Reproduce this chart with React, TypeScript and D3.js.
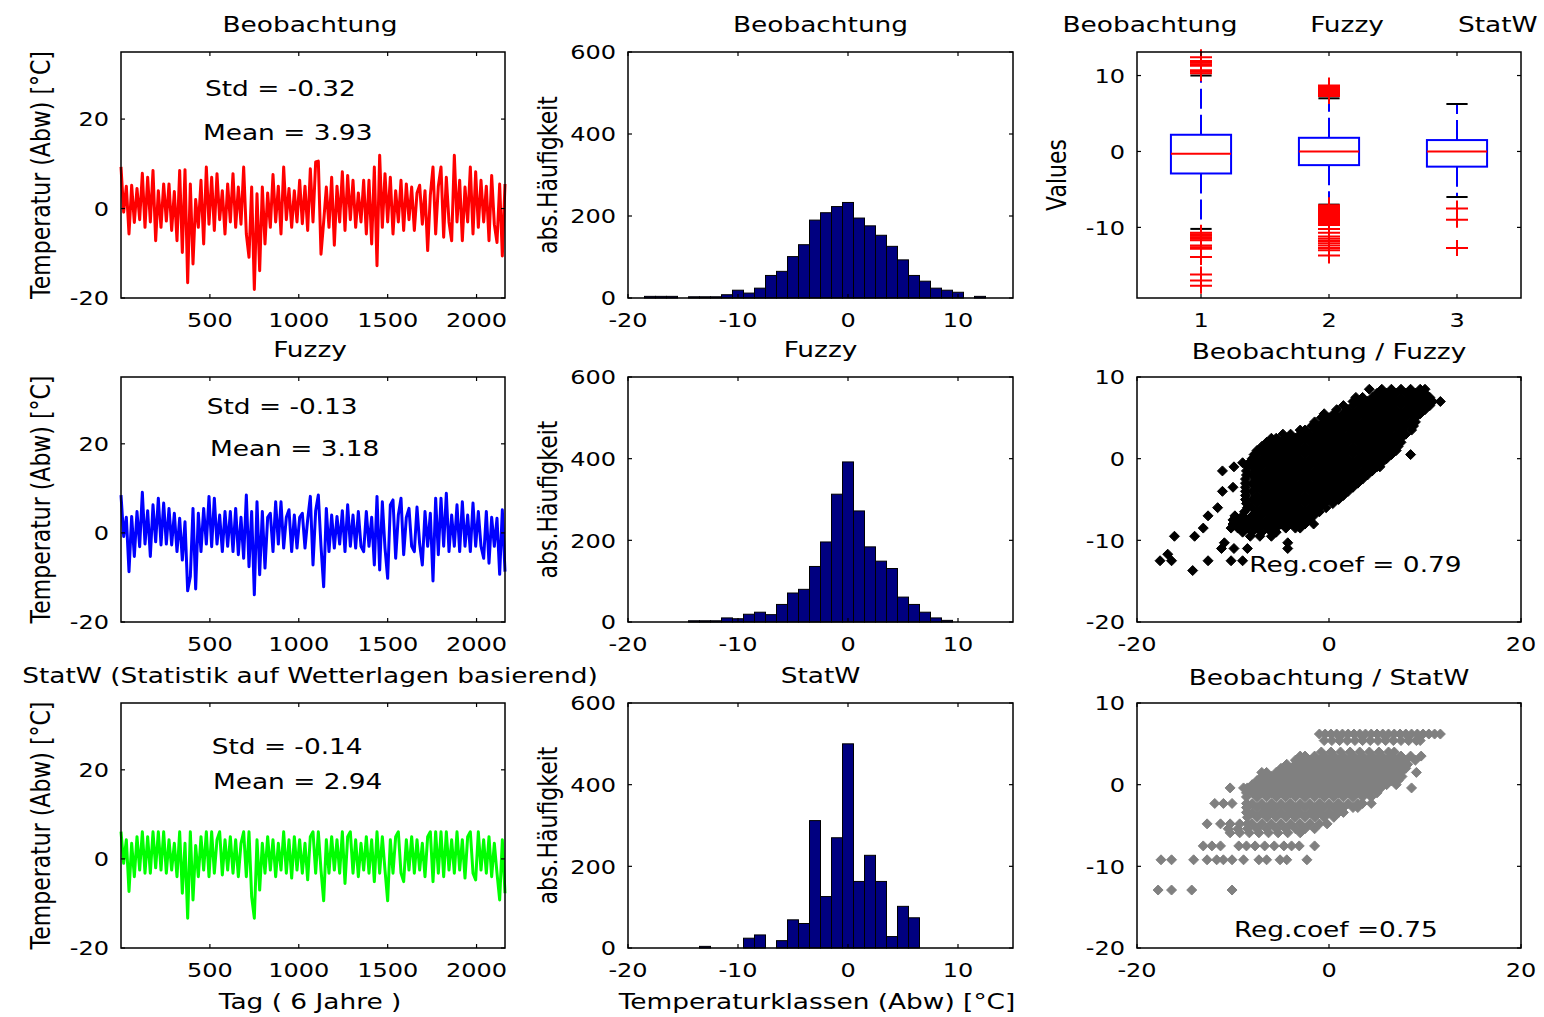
import React from "react";
import * as d3 from "d3";

const FONT = "'DejaVu Sans', Verdana, Arial, sans-serif";
const STRETCH = 1.2;

// ---------------- Data ----------------
// time series: one reading every SAMPLE_DAYS days over ~6 years
const SAMPLE_DAYS = 15;
const beobSeries = [
  9.3, -0.8, 5.0, -5.7, 5.2, -3.1, 4.5, -2.5, 7.9, -4.2,
  7.0, -3.0, 8.5, -7.2, 4.0, -4.2, 5.5, -2.8, 5.5, -4.9,
  3.8, -7.2, 8.5, -9.8, 8.7, -16.6, 5.5, -12.4, 2.0, -4.2,
  6.3, -7.9, 9.3, -3.5, 7.0, -4.9, 7.8, -2.5, 4.0, -5.7,
  5.5, -3.0, 7.8, -4.2, 4.8, -3.5, 9.3, -5.7, -10.9, 4.8,
  -18.1, 3.3, -13.9, 4.8, -7.9, 3.5, -4.2, 7.6, -3.0, 5.0,
  -5.7, 9.3, -2.5, 4.5, -4.2, 4.0, -3.0, 6.3, -3.4, 5.0,
  -4.9, 8.9, -3.0, 10.4, 10.6, -10.2, -3.0, 4.8, -4.2, 7.0,
  -8.2, 5.0, -3.0, 8.2, -4.9, 7.4, -2.5, 6.3, -4.2, 3.5,
  -3.0, 6.3, -5.7, 6.3, -7.9, 9.3, -12.8, 11.9, -4.2, 7.8,
  -3.0, 7.0, -5.7, 4.0, -3.0, 6.3, -4.9, 5.5, -2.5, 4.8,
  -4.9, 3.5, 5.2, -3.5, 4.0, -9.4, 3.0, 9.3, -5.7, 5.0,
  9.3, -6.4, 7.0, -3.0, -7.2, 11.9, -3.0, 6.3, -7.2, 4.8,
  -3.0, 9.3, -5.7, 8.2, -4.2, 6.3, -3.0, 5.0, -7.2, 7.4,
  -3.5, -7.6, 5.5, -10.6, 5.5,
];
const fuzzySeries = [
  8.5, -0.8, 3.5, -8.7, 3.7, -5.3, 4.8, -3.1, 9.1, -2.5,
  5.0, -5.3, 6.3, -2.0, 7.8, -2.7, 6.7, -2.5, 5.5, -2.7,
  4.4, -4.2, 3.3, -6.1, 2.5, -13.0, -9.8, 5.5, -12.6, 4.4,
  -4.2, 5.5, -2.5, 8.2, -3.1, 7.8, -2.5, 4.0, -4.2, 4.8,
  -3.0, 4.8, -4.2, 5.5, -4.9, 3.5, -5.7, 8.5, -7.6, 4.8,
  -13.9, 7.0, -9.4, 4.8, -7.9, 3.5, 4.4, -4.2, 7.0, -2.5,
  7.0, -3.4, 3.5, 5.2, -4.2, 4.0, -3.4, 3.5, 4.4, -3.4,
  3.0, 8.2, -7.2, 5.0, 8.5, -3.0, -12.1, 5.5, -4.2, 4.0,
  -3.4, 3.7, -2.5, 5.0, -4.2, 6.3, -3.0, 4.0, -3.4, 4.8,
  -3.0, -4.2, 4.8, -3.0, 3.5, -7.2, 8.2, -8.3, 7.0, -3.4,
  -10.2, 6.3, 7.4, -5.7, 4.0, 7.8, -4.9, 3.5, 5.5, -3.0,
  -4.2, 5.8, -2.5, -7.2, 4.8, -3.0, 4.4, -10.8, 7.8, -4.9,
  7.8, -3.0, 8.9, -4.2, 4.0, -3.0, 6.3, -4.2, 7.0, -3.0,
  4.0, -4.2, 6.7, -3.0, 4.8, -3.0, -5.7, 4.8, -6.8, 3.5,
  -3.0, 3.3, -9.3, 5.2, -8.7,
];
const statwSeries = [
  6.1, -1.0, 4.3, -7.3, 3.5, -4.0, 5.0, -2.5, 6.1, -3.2,
  5.0, -3.2, 6.1, -2.0, 6.1, -2.5, 6.1, -3.2, 4.3, -2.5,
  3.5, -4.0, 6.1, -7.7, 3.5, -13.3, 6.1, -9.2, 3.0, -4.0,
  5.0, -2.5, 6.1, -4.0, 6.1, -3.2, 4.3, 6.1, -3.6, 4.3,
  -2.5, 5.0, -3.2, 4.3, -4.0, 3.5, 6.1, -4.0, 6.1, -8.5,
  -13.3, 4.3, -7.0, 3.5, -3.2, 5.0, -2.5, 4.3, -4.0, 3.5,
  -2.5, 6.1, -3.2, 4.3, -4.3, 5.0, -2.5, 4.3, -3.2, 3.5,
  -4.7, 5.0, 6.1, -3.2, 6.1, -2.5, -9.4, 4.3, -3.2, 5.0,
  -2.5, 4.3, -3.2, 6.1, -5.5, 5.0, 6.1, -3.2, 4.3, -4.0,
  3.5, -2.5, 5.0, -3.2, 4.3, -5.1, 6.1, -3.2, 5.0, -2.5,
  -9.4, 4.3, -3.2, 5.0, 6.1, -3.2, -5.1, 4.3, -2.5, 5.0,
  -3.2, 4.3, -2.5, 3.5, -4.0, 5.0, 6.1, -5.1, 6.1, -3.2,
  6.1, -4.0, 6.1, -2.5, 4.3, -3.2, 6.1, -2.5, 4.3, -4.3,
  5.0, 6.1, -3.2, -4.7, 6.1, -2.5, 4.3, -3.2, 5.0, -4.0,
  3.5, -3.2, -9.2, 4.3, -7.7,
];
const tsColors = ["#ff0000", "#0000ff", "#00ff00"];
const tsTitles = ["Beobachtung", "Fuzzy", "StatW (Statistik auf Wetterlagen basierend)"];
const stdLabels = ["-0.32", "-0.13", "-0.14"];
const meanLabels = ["3.93", "3.18", "2.94"];

// histograms: bin centres (width 1) and counts
const histCenters = [-18, -17, -16, -15, -14, -13, -12, -11, -10, -9, -8, -7, -6, -5, -4, -3, -2, -1, 0, 1, 2, 3, 4, 5, 6, 7, 8, 9, 10, 11, 12];
const beobCounts = [4, 4, 4, 0, 3, 3, 3, 8, 19, 12, 24, 55, 65, 101, 130, 190, 208, 223, 233, 195, 176, 153, 126, 93, 55, 41, 24, 19, 14, 0, 4];
const fuzzyCounts = [0, 0, 0, 0, 3, 3, 3, 10, 8, 19, 24, 18, 43, 71, 80, 136, 196, 313, 392, 272, 184, 149, 131, 61, 43, 24, 10, 4, 0, 0, 0];
const statwCounts = [0, 0, 0, 0, 0, 4, 0, 0, 0, 24, 32, 0, 18, 69, 60, 312, 126, 270, 500, 163, 227, 163, 28, 102, 74, 0, 0, 0, 0, 0, 0];
const histTitles = ["Beobachtung", "Fuzzy", "StatW"];

// boxplot statistics
const boxLabels = ["Beobachtung", "Fuzzy", "StatW"];
const boxQ1 = [-2.9, -1.8, -2.0];
const boxMedian = [-0.3, 0.0, 0.0];
const boxQ3 = [2.2, 1.8, 1.5];
const boxWhiskerLo = [-10.2, -7.0, -6.0];
const boxWhiskerHi = [10.0, 7.0, 6.25];
const beobOutliers = [10.3, 10.5, 10.7, 11.3, 11.5, 11.7, 11.9, 12.4, -10.7, -10.9, -11.1, -11.3, -11.5, -11.7, -12.4, -12.6, -12.8, -13.9, -16.2, -17.0, -17.7];
const fuzzyOutliers = [7.3, 7.5, 7.7, 7.9, 8.1, 8.3, 8.5, 8.7, -7.1, -7.3, -7.5, -7.7, -7.9, -8.1, -8.3, -8.5, -8.7, -8.9, -9.1, -9.3, -9.5, -9.7, -10.2, -10.7, -11.2, -11.5, -11.8, -12.1, -12.4, -12.7, -13.0, -13.7];
const statwOutliers = [-7.5, -9.0, -12.7];

// scatter: rows of [y, x values]
const fuzzyScatterRows: [number, number[]][] = [
  [8.5, [4.2, 5.5, 6.5, 7.5, 8.5, 9.5, 10.0]],
  [8.0, [5.0, 6.0, 7.0, 8.0, 9.0, 10.0]],
  [7.5, [2.8, 3.5, 4.5, 5.5, 6.5, 7.5, 8.5, 9.5, 10.5]],
  [7.0, [2.5, 3.0, 4.0, 5.0, 6.0, 7.0, 8.0, 9.0, 10.0, 10.8, 11.6]],
  [6.5, [1.5, 2.5, 3.5, 4.5, 5.5, 6.5, 7.5, 8.5, 9.5, 10.5]],
  [6.0, [0.8, 2.0, 3.0, 4.0, 5.0, 6.0, 7.0, 8.0, 9.0, 10.0]],
  [5.5, [-0.5, 0.5, 1.5, 2.5, 3.5, 4.5, 5.5, 6.5, 7.5, 8.5, 9.5]],
  [5.0, [-0.8, 0.0, 1.0, 2.0, 3.0, 4.0, 5.0, 6.0, 7.0, 8.0, 9.0]],
  [4.5, [-1.5, -0.5, 0.5, 1.5, 2.5, 3.5, 4.5, 5.5, 6.5, 7.5, 8.5, 9.0]],
  [4.0, [-1.8, -1.0, 0.0, 1.0, 2.0, 3.0, 4.0, 5.0, 6.0, 7.0, 8.0, 8.8]],
  [3.5, [-3.0, -2.5, -1.5, -0.5, 0.5, 1.5, 2.5, 3.5, 4.5, 5.5, 6.5, 7.5, 8.6]],
  [3.0, [-4.8, -4.0, -3.0, -2.0, -1.0, 0.0, 1.0, 2.0, 3.0, 4.0, 5.0, 6.0, 7.0, 8.0]],
  [2.5, [-6.0, -5.5, -4.5, -3.5, -2.5, -1.5, -0.5, 0.5, 1.5, 2.5, 3.5, 4.5, 5.5, 6.5, 7.5]],
  [2.0, [-6.5, -6.0, -5.0, -4.0, -3.0, -2.0, -1.0, 0.0, 1.0, 2.0, 3.0, 4.0, 5.0, 6.0, 7.0, 7.5]],
  [1.5, [-7.0, -6.5, -5.5, -4.5, -3.5, -2.5, -1.5, -0.5, 0.5, 1.5, 2.5, 3.5, 4.5, 5.5, 6.5, 7.2]],
  [1.0, [-7.5, -7.0, -6.0, -5.0, -4.0, -3.0, -2.0, -1.0, 0.0, 1.0, 2.0, 3.0, 4.0, 5.0, 6.0, 7.0]],
  [0.5, [-7.8, -7.5, -6.5, -5.5, -4.5, -3.5, -2.5, -1.5, -0.5, 0.5, 1.5, 2.5, 3.5, 4.5, 5.5, 6.5, 8.5]],
  [0.0, [-8.0, -7.0, -6.0, -5.0, -4.0, -3.0, -2.0, -1.0, 0.0, 1.0, 2.0, 3.0, 4.0, 5.0, 6.0]],
  [-0.5, [-9.0, -8.3, -7.5, -6.5, -5.5, -4.5, -3.5, -2.5, -1.5, -0.5, 0.5, 1.5, 2.5, 3.5, 4.5, 5.5]],
  [-1.0, [-9.9, -8.5, -8.0, -7.0, -6.0, -5.0, -4.0, -3.0, -2.0, -1.0, 0.0, 1.0, 2.0, 3.0, 4.0, 5.0, 5.3]],
  [-1.5, [-11.1, -8.6, -7.5, -6.5, -5.5, -4.5, -3.5, -2.5, -1.5, -0.5, 0.5, 1.5, 2.5, 3.5, 4.5]],
  [-2.0, [-8.6, -8.0, -7.0, -6.0, -5.0, -4.0, -3.0, -2.0, -1.0, 0.0, 1.0, 2.0, 3.0, 4.0]],
  [-2.5, [-8.7, -7.5, -6.5, -5.5, -4.5, -3.5, -2.5, -1.5, -0.5, 0.5, 1.5, 2.5, 3.5]],
  [-3.0, [-8.7, -8.0, -7.0, -6.0, -5.0, -4.0, -3.0, -2.0, -1.0, 0.0, 1.0, 2.0, 3.0]],
  [-3.5, [-10.0, -8.7, -7.5, -6.5, -5.5, -4.5, -3.5, -2.5, -1.5, -0.5, 0.5, 1.5, 2.5]],
  [-4.0, [-11.1, -8.7, -8.0, -7.0, -6.0, -5.0, -4.0, -3.0, -2.0, -1.0, 0.0, 1.0, 2.0]],
  [-4.5, [-8.7, -7.5, -6.5, -5.5, -4.5, -3.5, -2.5, -1.5, -0.5, 0.5, 1.5]],
  [-5.0, [-8.7, -8.0, -7.0, -6.0, -5.0, -4.0, -3.0, -2.0, -1.0, 0.0, 1.0]],
  [-5.5, [-8.6, -7.5, -6.5, -5.5, -4.5, -3.5, -2.5, -1.5, -0.5, 0.4]],
  [-6.0, [-11.6, -8.5, -8.0, -7.0, -6.0, -5.0, -4.0, -3.0, -2.0, -1.0, -0.3]],
  [-6.5, [-8.8, -7.5, -6.5, -5.5, -4.5, -3.5, -2.5, -1.5, -1.0]],
  [-7.0, [-12.6, -9.8, -9.0, -8.0, -7.0, -6.0, -5.0, -4.0, -3.0, -2.0, -1.6]],
  [-7.5, [-10.0, -9.5, -8.5, -7.5, -6.5, -5.5, -4.5, -3.5, -2.5, -2.0]],
  [-8.0, [-10.0, -9.0, -8.0, -7.0, -6.0, -5.0, -4.0, -3.0, -2.5, -1.6]],
  [-8.5, [-13.1, -10.2, -9.5, -8.5, -7.5, -6.5, -5.5, -4.5, -3.5, -3.0]],
  [-9.0, [-9.0, -8.0, -7.0, -6.0, -5.5]],
  [-9.5, [-16.1, -14.0, -8.2, -7.2, -6.0]],
  [-10.3, [-10.9, -4.3]],
  [-11.0, [-11.2, -9.9, -8.5, -4.3]],
  [-11.7, [-16.8]],
  [-12.5, [-17.6, -16.4, -12.6, -10.2, -9.0]],
  [-13.7, [-14.2]],
];
const statwScatterRows: [number, number[]][] = [
  [6.2, [-1.0, -0.4, 0.2, 0.8, 1.4, 2.0, 2.6, 3.2, 3.8, 4.4, 5.0, 5.6, 6.2, 6.8, 7.4, 8.0, 8.6, 9.2, 9.8, 10.4, 11.0, 11.6]],
  [5.4, [-0.5, 0.3, 1.1, 1.9, 2.7, 3.5, 4.3, 5.1, 5.9, 6.7, 7.5, 8.3, 9.1, 9.5]],
  [4.0, [-0.8, 0.2, 1.2, 2.2, 3.2, 4.2, 5.2, 6.2, 6.8]],
  [3.5, [-3.0, -2.5, -1.5, -0.5, 0.5, 1.5, 2.5, 3.5, 4.5, 5.5, 6.5, 7.5, 8.5, 9.6]],
  [3.0, [-3.5, -3.0, -2.0, -1.0, 0.0, 1.0, 2.0, 3.0, 4.0, 5.0, 6.0, 7.0, 8.0, 9.0]],
  [2.5, [-4.4, -3.5, -2.5, -1.5, -0.5, 0.5, 1.5, 2.5, 3.5, 4.5, 5.5, 6.5, 7.5, 8.2]],
  [2.0, [-5.0, -4.0, -3.0, -2.0, -1.0, 0.0, 1.0, 2.0, 3.0, 4.0, 5.0, 6.0, 7.0, 8.0]],
  [1.5, [-7.0, -6.5, -5.5, -4.5, -3.5, -2.5, -1.5, -0.5, 0.5, 1.5, 2.5, 3.5, 4.5, 5.5, 6.5, 7.5, 9.1]],
  [1.0, [-7.0, -6.0, -5.0, -4.0, -3.0, -2.0, -1.0, 0.0, 1.0, 2.0, 3.0, 4.0, 5.0, 6.0, 7.0, 7.6]],
  [0.5, [-7.5, -6.5, -5.5, -4.5, -3.5, -2.5, -1.5, -0.5, 0.5, 1.5, 2.5, 3.5, 4.5, 5.5, 6.5, 7.2]],
  [0.0, [-8.0, -7.0, -6.0, -5.0, -4.0, -3.0, -2.0, -1.0, 0.0, 1.0, 2.0, 3.0, 4.0, 5.0, 6.0, 7.0]],
  [-0.4, [-10.3, -8.9, -8.5, -7.5, -6.5, -5.5, -4.5, -3.5, -2.5, -1.5, -0.5, 0.5, 1.5, 2.5, 3.5, 4.5, 5.4, 8.6]],
  [-1.0, [-8.6, -8.0, -7.0, -6.0, -5.0, -4.0, -3.0, -2.0, -1.0, 0.0, 1.0, 2.0, 3.0, 4.0, 5.0]],
  [-1.5, [-8.6, -7.5, -6.5, -5.5, -4.5, -3.5, -2.5, -1.5, -0.5, 0.5, 1.5, 2.5, 3.5, 4.4]],
  [-2.3, [-11.9, -11.0, -10.1, -8.6, -8.0, -7.0, -6.0, -5.0, -4.0, -3.0, -2.0, -1.0, 0.0, 1.0, 2.0, 3.0, 3.5, 4.4]],
  [-2.8, [-8.6, -7.5, -6.5, -5.5, -4.5, -3.5, -2.5, -1.5, -0.5, 0.5, 1.5, 2.5, 3.0]],
  [-3.4, [-8.6, -8.0, -7.0, -6.0, -5.0, -4.0, -3.0, -2.0, -1.0, 0.0, 1.0, 1.5]],
  [-4.0, [-8.5, -7.5, -6.5, -5.5, -4.5, -3.5, -2.5, -1.5, -0.5, 0.5]],
  [-4.8, [-12.7, -11.3, -10.3, -9.3, -8.5, -8.0, -7.0, -6.0, -5.0, -4.0, -3.0, -2.0, -1.0, -0.2]],
  [-5.4, [-10.5, -9.5, -8.5, -7.5, -6.5, -5.5, -4.5, -3.5, -2.5, -1.5]],
  [-5.9, [-10.3, -9.3, -8.3, -7.3, -6.3, -5.3, -4.3, -3.0]],
  [-7.5, [-13.1, -12.2, -11.3, -9.4, -8.6, -7.7, -6.7, -5.7, -4.7, -3.9, -3.1, -1.5]],
  [-9.2, [-17.5, -16.4, -14.1, -12.7, -11.7, -11.0, -10.1, -8.9, -7.3, -6.5, -5.1, -4.4, -2.3]],
  [-12.9, [-17.8, -16.4, -14.3, -10.1]],
];
const scatterTitles = ["Beobachtung / Fuzzy", "Beobachtung / StatW"];
const regCoefLabels = ["Reg.coef = 0.79", "Reg.coef =0.75"];

// tick values
const tsXTicks = [500, 1000, 1500, 2000];
const tsYTicks = [-20, 0, 20];
const histXTicks = [-20, -10, 0, 10];
const histYTicks = [0, 200, 400, 600];
const boxXTicks = [1, 2, 3];
const boxYTicks = [-10, 0, 10];
const scXTicks = [-20, 0, 20];
const scYTicks = [-20, -10, 0, 10];

// ---------------- Layout ----------------
const COLS = [[121, 505], [628, 1013], [1137, 1521]];
const ROWS = [[52, 298], [377, 622], [703, 948]];
const TITLE_BASE = [32, 357, 683];
const STD_POS = [[472, 25.1], [482, 26.8], [510, 23.6]];
const MEAN_POS = [[461, 15.3], [500, 17.2], [517, 15.8]];
const REG_POS = [[-8.3, -13.9], [-9.9, -18.7]];

function Txt({ x, y, anchor = "start", size = 22, rotate = false, children }: any) {
  const tr = rotate
    ? `translate(${x},${y}) scale(${STRETCH},1) rotate(-90)`
    : `translate(${x},${y}) scale(${STRETCH},1)`;
  return (
    <text transform={tr} textAnchor={anchor} fontSize={size} fontFamily={FONT} fill="#000">
      {children}
    </text>
  );
}

function Frame({ x0, x1, y0, y1, xs, ys, xTicks, yTicks }: any) {
  const TL = 4;
  return (
    <g>
      <rect x={x0} y={y0} width={x1 - x0} height={y1 - y0} fill="none" stroke="#000" strokeWidth={1.5} />
      {xTicks.map((t: number) => {
        const x = xs(t);
        return (
          <g key={"x" + t}>
            <line x1={x} x2={x} y1={y1} y2={y1 - TL} stroke="#000" strokeWidth={1.2} />
            <line x1={x} x2={x} y1={y0} y2={y0 + TL} stroke="#000" strokeWidth={1.2} />
            <Txt x={x} y={y1 + 29} anchor="middle" size={20}>{String(t)}</Txt>
          </g>
        );
      })}
      {yTicks.map((t: number) => {
        const y = ys(t);
        return (
          <g key={"y" + t}>
            <line x1={x0} x2={x0 + TL} y1={y} y2={y} stroke="#000" strokeWidth={1.2} />
            <line x1={x1} x2={x1 - TL} y1={y} y2={y} stroke="#000" strokeWidth={1.2} />
            <Txt x={x0 - 12} y={y + 7.3} anchor="end" size={20}>{String(t)}</Txt>
          </g>
        );
      })}
    </g>
  );
}

const diamond = "M0,-5L5,0L0,5L-5,0Z";

export default function App() {
  const tsSeries = [beobSeries, fuzzySeries, statwSeries];
  const histCounts = [beobCounts, fuzzyCounts, statwCounts];
  const outliers = [beobOutliers, fuzzyOutliers, statwOutliers];
  const scRows = [fuzzyScatterRows, statwScatterRows];
  const scColors = ["#000000", "#808080"];

  return (
    <svg width={1544} height={1017} style={{ position: "absolute", left: 0, top: 0, background: "#fff" }}>
      <rect width={1544} height={1017} fill="#fff" />

      {/* Column 1: time series */}
      {ROWS.map(([y0, y1], r) => {
        const [x0, x1] = COLS[0];
        const xs = d3.scaleLinear().domain([0, 2160]).range([x0, x1]);
        const ys = d3.scaleLinear().domain([-20, 35]).range([y1, y0]);
        const path = d3.line<number>().x((_, i) => xs(i * SAMPLE_DAYS)).y((d) => ys(d))(tsSeries[r]) || "";
        return (
          <g key={"ts" + r}>
            <path d={path} fill="none" stroke={tsColors[r]} strokeWidth={3} strokeLinejoin="round" />
            <Frame x0={x0} x1={x1} y0={y0} y1={y1} xs={xs} ys={ys} xTicks={tsXTicks} yTicks={tsYTicks} />
            <Txt x={xs(STD_POS[r][0])} y={ys(STD_POS[r][1])} size={22}>{"Std = " + stdLabels[r]}</Txt>
            <Txt x={xs(MEAN_POS[r][0])} y={ys(MEAN_POS[r][1])} size={22}>{"Mean = " + meanLabels[r]}</Txt>
            <Txt x={(x0 + x1) / 2 - 3} y={TITLE_BASE[r]} anchor="middle">{tsTitles[r]}</Txt>
            <Txt x={50} y={(y0 + y1) / 2} anchor="middle" rotate>{"Temperatur (Abw) [°C]"}</Txt>
          </g>
        );
      })}

      {/* Column 2: histograms */}
      {ROWS.map(([y0, y1], r) => {
        const [x0, x1] = COLS[1];
        const xs = d3.scaleLinear().domain([-20, 15]).range([x0, x1]);
        const ys = d3.scaleLinear().domain([0, 600]).range([y1, y0]);
        return (
          <g key={"h" + r}>
            {histCenters.map((c, i) => {
              const n = histCounts[r][i];
              if (!n) return null;
              return (
                <rect key={i} x={xs(c - 0.5)} width={xs(c + 0.5) - xs(c - 0.5)} y={ys(n)} height={ys(0) - ys(n)}
                  fill="#000080" stroke="#000" strokeWidth={1} />
              );
            })}
            <Frame x0={x0} x1={x1} y0={y0} y1={y1} xs={xs} ys={ys} xTicks={histXTicks} yTicks={histYTicks} />
            <Txt x={(x0 + x1) / 2} y={TITLE_BASE[r]} anchor="middle">{histTitles[r]}</Txt>
            <Txt x={557} y={(y0 + y1) / 2} anchor="middle" rotate>{"abs.Häufigkeit"}</Txt>
          </g>
        );
      })}

      {/* Column 3 row 1: boxplot */}
      {(() => {
        const [x0, x1] = COLS[2];
        const [y0, y1] = ROWS[0];
        const xs = d3.scaleLinear().domain([0.5, 3.5]).range([x0, x1]);
        const ys = d3.scaleLinear().domain([-19.3, 13.1]).range([y1, y0]);
        const bw = 0.235;
        const cw = 0.083;
        return (
          <g>
            {boxXTicks.map((g, i) => (
              <g key={i}>
                <line x1={xs(g)} x2={xs(g)} y1={ys(boxQ3[i])} y2={ys(boxWhiskerHi[i])} stroke="#0000ff" strokeWidth={2} strokeDasharray="20 6" />
                <line x1={xs(g)} x2={xs(g)} y1={ys(boxQ1[i])} y2={ys(boxWhiskerLo[i])} stroke="#0000ff" strokeWidth={2} strokeDasharray="20 6" />
                <line x1={xs(g - cw)} x2={xs(g + cw)} y1={ys(boxWhiskerHi[i])} y2={ys(boxWhiskerHi[i])} stroke="#000" strokeWidth={2} />
                <line x1={xs(g - cw)} x2={xs(g + cw)} y1={ys(boxWhiskerLo[i])} y2={ys(boxWhiskerLo[i])} stroke="#000" strokeWidth={2} />
                <rect x={xs(g - bw)} width={xs(g + bw) - xs(g - bw)} y={ys(boxQ3[i])} height={ys(boxQ1[i]) - ys(boxQ3[i])}
                  fill="none" stroke="#0000ff" strokeWidth={2} />
                <line x1={xs(g - bw)} x2={xs(g + bw)} y1={ys(boxMedian[i])} y2={ys(boxMedian[i])} stroke="#ff0000" strokeWidth={2} />
                {outliers[i].map((v, k) => (
                  <path key={k} d={`M${xs(g) - 11},${ys(v)}H${xs(g) + 11}M${xs(g)},${ys(v) - 8}V${ys(v) + 8}`}
                    stroke="#ff0000" strokeWidth={2} fill="none" />
                ))}
              </g>
            ))}
            <Frame x0={x0} x1={x1} y0={y0} y1={y1} xs={xs} ys={ys} xTicks={boxXTicks} yTicks={boxYTicks} />
            <Txt x={1150} y={TITLE_BASE[0]} anchor="middle">{boxLabels[0]}</Txt>
            <Txt x={1347} y={TITLE_BASE[0]} anchor="middle">{boxLabels[1]}</Txt>
            <Txt x={1458} y={TITLE_BASE[0]} anchor="start">{boxLabels[2]}</Txt>
            <Txt x={1066} y={(y0 + y1) / 2} anchor="middle" rotate>{"Values"}</Txt>
          </g>
        );
      })()}

      {/* Column 3 rows 2-3: scatter */}
      {[1, 2].map((r, s) => {
        const [x0, x1] = COLS[2];
        const [y0, y1] = ROWS[r];
        const xs = d3.scaleLinear().domain([-20, 20]).range([x0, x1]);
        const ys = d3.scaleLinear().domain([-20, 10]).range([y1, y0]);
        return (
          <g key={"sc" + s}>
            {scRows[s].flatMap(([yv, xsList], ri) =>
              xsList.map((xv, k) => (
                <path key={ri + "-" + k} d={diamond} transform={`translate(${xs(xv)},${ys(yv)})`}
                  fill={scColors[s]} stroke={scColors[s]} strokeWidth={1} />
              ))
            )}
            <Frame x0={x0} x1={x1} y0={y0} y1={y1} xs={xs} ys={ys} xTicks={scXTicks} yTicks={scYTicks} />
            <Txt x={xs(REG_POS[s][0])} y={ys(REG_POS[s][1])} size={22}>{regCoefLabels[s]}</Txt>
            <Txt x={(x0 + x1) / 2} y={TITLE_BASE[r] + 2} anchor="middle">{scatterTitles[s]}</Txt>
          </g>
        );
      })}

      {/* bottom axis labels */}
      <Txt x={310} y={1009} anchor="middle">{"Tag ( 6 Jahre )"}</Txt>
      <Txt x={817} y={1009} anchor="middle">{"Temperaturklassen (Abw) [°C]"}</Txt>
    </svg>
  );
}
